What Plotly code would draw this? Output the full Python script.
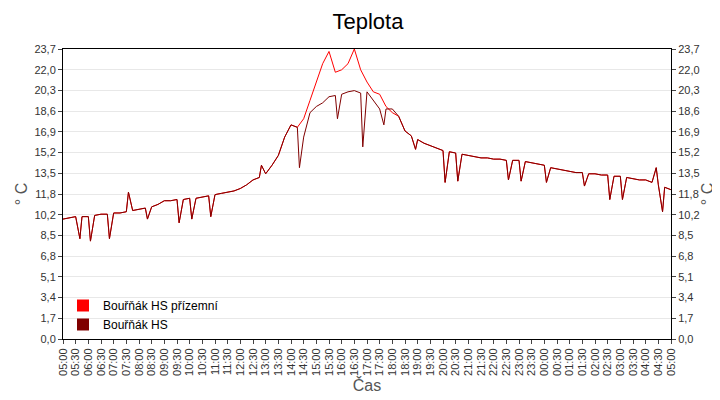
import pandas as pd
import plotly.graph_objects as go

# 15-minute readings from 05:00 to 05:00 next day (97 points)
times = pd.date_range("2023-06-01 05:00", "2023-06-02 05:00", freq="15min")

hs = [9.8, 9.9, 10.0, 10.0, 10.0, 10.1, 10.2, 10.2, 10.3, 10.3, 10.4, 10.5,
      10.6, 10.7, 10.8, 11.0, 11.3, 11.3, 11.4, 11.4, 11.5, 11.5, 11.6, 11.7,
      11.8, 11.9, 12.0, 12.1, 12.3, 12.6, 13.0, 13.2, 13.5, 14.2, 15.0, 16.5,
      17.5, 17.3, 16.5, 18.5, 19.0, 19.3, 19.8, 19.9, 20.0, 20.2, 20.3, 20.1,
      20.2, 19.5, 18.8, 18.8, 18.8, 18.2, 17.0, 16.6, 16.3, 16.0, 15.8, 15.6,
      15.4, 15.3, 15.2, 15.1, 15.0, 14.9, 14.8, 14.8, 14.7, 14.7, 14.6, 14.6,
      14.6, 14.5, 14.4, 14.3, 14.2, 14.0, 13.9, 13.8, 13.7, 13.6, 13.6, 13.5,
      13.5, 13.4, 13.4, 13.3, 13.3, 13.2, 13.1, 13.0, 13.0, 12.8, 12.6, 12.4,
      12.2]

priz = hs[:38] + [18.0, 19.5, 21.0, 22.5, 23.5, 21.8, 22.0, 22.5, 23.7, 22.0,
                  21.0, 20.2, 20.0, 19.0, 18.5] + hs[53:]

# short excursions (time, value)
spike_t = ["05:40", "06:05", "06:50", "07:35", "08:20", "09:35", "10:05", "10:50",
           "12:50", "14:20", "15:50", "16:50", "17:40", "18:55", "20:05", "20:35",
           "22:35", "23:05", "00:05", "01:35", "02:35", "03:05", "04:25", "04:40"]
spike_v = [8.2, 8.0, 8.2, 12.0, 9.8, 9.5, 9.8, 10.0,
           14.2, 14.0, 18.0, 15.7, 17.5, 15.5, 12.8, 12.9,
           13.0, 12.9, 12.8, 12.5, 11.4, 11.4, 14.0, 10.4]
# the ground-level sensor runs warmer in this window, so its spikes are skipped there
warm_from, warm_to = "14:15", "18:00"


def with_spikes(base, skip_warm):
    s = pd.Series(base, index=times)
    idx, vals = [], []
    for t, v in zip(spike_t, spike_v):
        if skip_warm and warm_from <= t <= warm_to:
            continue
        day = "2023-06-01" if t >= "05:00" else "2023-06-02"
        idx.append(pd.Timestamp(day + " " + t))
        vals.append(v)
    return pd.concat([s, pd.Series(vals, index=idx)]).sort_index()


s_hs = with_spikes(hs, False)
s_priz = with_spikes(priz, True)

red = "#ff0000"
dark = "#800000"
top = 23.7
tickvals = [top * k / 14 for k in range(15)]
ticktext = [("%.1f" % v).replace(".", ",") for v in tickvals]

fig = go.Figure()
fig.add_trace(go.Scatter(x=s_priz.index, y=s_priz.values, mode="lines",
                         line=dict(color=red, width=1), showlegend=False))
fig.add_trace(go.Scatter(x=s_hs.index, y=s_hs.values, mode="lines",
                         line=dict(color=dark, width=1), showlegend=False))
for name, c in [("Bouřňák HS přízemní", red), ("Bouřňák HS", dark)]:
    fig.add_trace(go.Scatter(x=[None], y=[None], mode="markers", name=name,
                             marker=dict(symbol="square", size=15, color=c)))

xt = pd.date_range("2023-06-01 05:00", "2023-06-02 05:00", freq="30min")
fig.update_layout(
    width=720, height=400,
    paper_bgcolor="white", plot_bgcolor="white",
    font=dict(family="Liberation Sans, Arial", size=11, color="#333"),
    margin=dict(l=55, r=57, t=41, b=69, autoexpand=False),
    title=dict(text="Teplota", x=0.5, y=0.985, yanchor="top", xanchor="center",
               font=dict(size=22, color="black")),
    xaxis=dict(range=[xt[0], xt[-1]], tickvals=xt, automargin=False,
               ticktext=[t.strftime("%H:%M") for t in xt], tickangle=-90,
               ticks="outside", ticklen=4, showgrid=False, showline=True,
               linecolor="black", mirror=True,
               title=dict(text="Čas", font=dict(size=16, color="#555"), standoff=4)),
    yaxis=dict(range=[0, top], tickvals=tickvals, ticktext=ticktext, automargin=False,
               ticks="outside", ticklen=4, showline=True, linecolor="black",
               gridcolor="#e8e8e8", zeroline=False,
               title=dict(text="° C", font=dict(size=16, color="#555"), standoff=2)),
    yaxis2=dict(range=[0, top], tickvals=tickvals, ticktext=ticktext, automargin=False,
                overlaying="y", side="right", ticks="outside", ticklen=4,
                showline=True, linecolor="black", showgrid=False, zeroline=False,
                title=dict(text="° C", font=dict(size=16, color="#555"), standoff=2)),
    legend=dict(x=0.0, y=0.0, xanchor="left", yanchor="bottom",
                bgcolor="rgba(0,0,0,0)", tracegroupgap=0, itemsizing="constant",
                font=dict(size=12, color="black")),
)
fig.add_trace(go.Scatter(x=[xt[0]], y=[None], yaxis="y2", showlegend=False))
fig.write_html("out.html")
